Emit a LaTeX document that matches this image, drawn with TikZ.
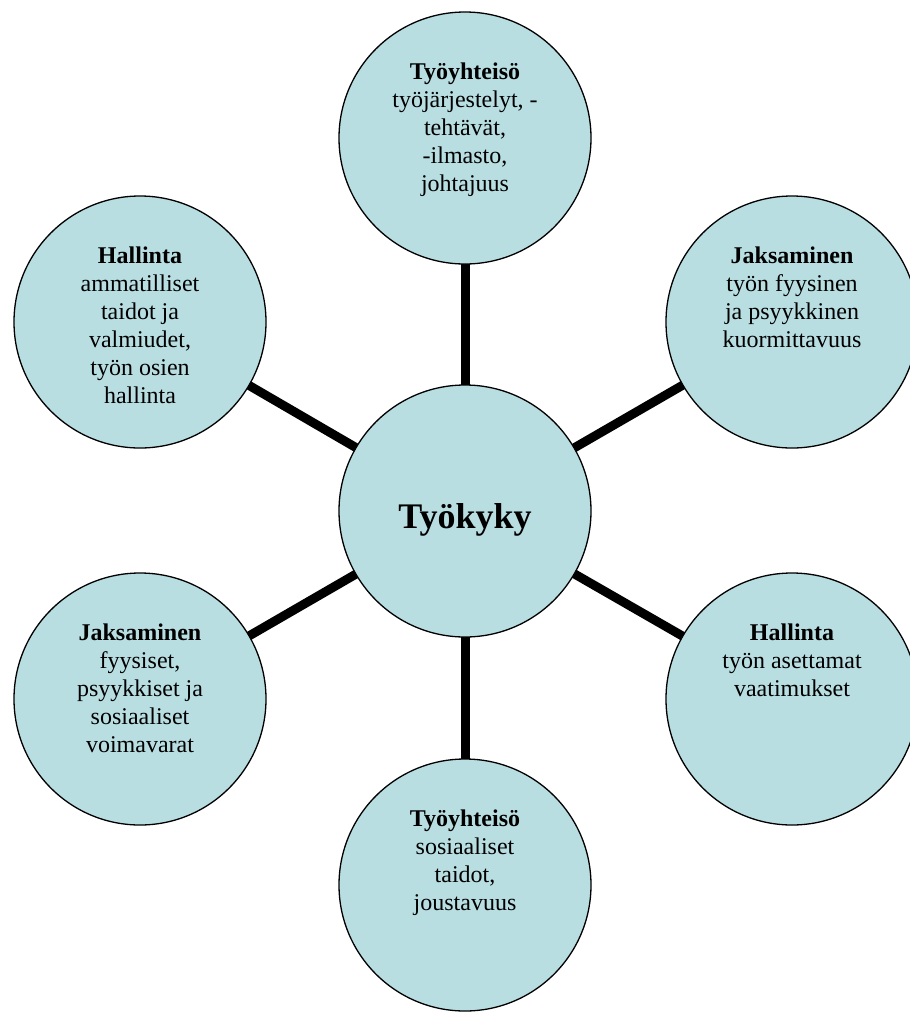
\documentclass[tikz,border=0pt]{standalone}
\usepackage{fontspec}
\setmainfont{Liberation Serif}
\usetikzlibrary{backgrounds}
\definecolor{bub}{RGB}{184,222,226}
\begin{document}
\begin{tikzpicture}[x=1pt,y=-1pt,
  bubble/.style={circle,draw=black,line width=1.3pt,fill=bub,minimum size=252pt,inner sep=0pt},
  txt/.style={anchor=north,align=center,inner sep=0pt,font=\fontsize{24}{28}\selectfont},
  link/.style={line width=9pt,draw=black}]
\useasboundingbox (0,0) rectangle (910,1013);
\clip (0,0) rectangle (910,1013);
\node[bubble,text height=34pt,text depth=0pt,font=\fontsize{36}{40}\selectfont\bfseries] (c) at (465,511) {Työkyky};
\node[bubble] (t) at (465,138) {};
\node[bubble] (b) at (465,885) {};
\node[bubble] (tl) at (140,322) {};
\node[bubble] (tr) at (792,322) {};
\node[bubble] (bl) at (140,699) {};
\node[bubble] (br) at (792,699) {};
\node[txt] (tt) at (465,63) {\textbf{Työyhteisö}\\työjärjestelyt, -\\tehtävät,\\-ilmasto,\\johtajuus};
\node[txt] (trt) at (792,247) {\textbf{Jaksaminen}\\työn fyysinen\\ja psyykkinen\\kuormittavuus};
\node[txt] (tlt) at (140,247) {\textbf{Hallinta}\\ammatilliset\\taidot ja\\valmiudet,\\työn osien\\hallinta};
\node[txt] (blt) at (140,624) {\textbf{Jaksaminen}\\fyysiset,\\psyykkiset ja\\sosiaaliset\\voimavarat};
\node[txt] (brt) at (792,624) {\textbf{Hallinta}\\työn asettamat\\vaatimukset};
\node[txt] (bt) at (465,810) {\textbf{Työyhteisö}\\sosiaaliset\\taidot,\\joustavuus};
\begin{scope}[on background layer]
\foreach \n in {t,b,tl,tr,bl,br}{\draw[link] (c.center) -- (\n.center);}
\end{scope}
\end{tikzpicture}
\end{document}
